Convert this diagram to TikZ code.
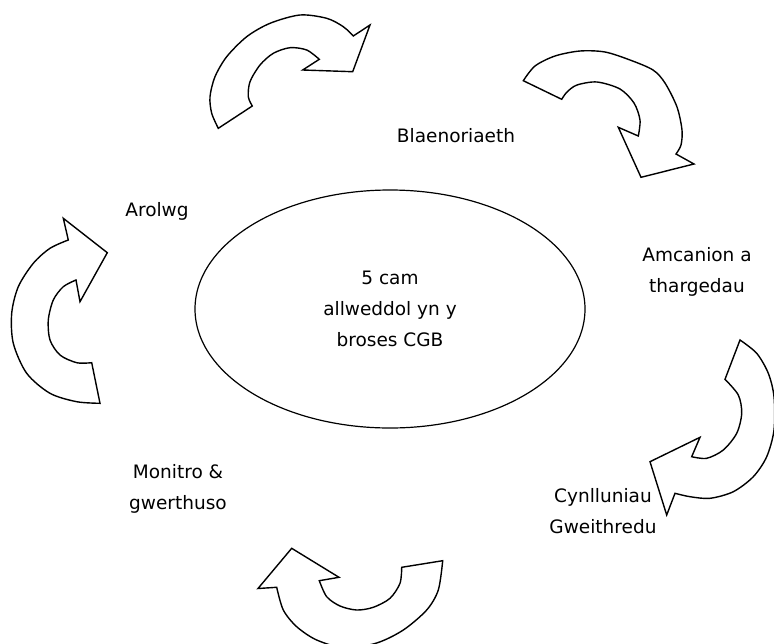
\documentclass[tikz,border=0pt]{standalone}
\usepackage{fontspec}
\setmainfont{DejaVu Sans}
\usetikzlibrary{shapes.geometric}
\tikzset{
  blockarrow/.style={draw=black, line width=1.4pt, fill=white, line join=miter},
  lbl/.style={align=center, inner sep=0pt, font=\fontsize{18.5}{31}\selectfont},
}
\begin{document}
\begin{tikzpicture}[x=1pt,y=-1pt]
\useasboundingbox (0,0) rectangle (774,643);
\fill[white] (0,0) rectangle (774,643);
\clip (0,0) rectangle (774,643);

% centre ellipse
\node[draw, line width=1.2pt, ellipse, minimum width=390pt, minimum height=238pt, lbl] (centre) at (390,309)
  {5 cam\\allweddol yn y\\broses CGB};

% labels
\node[lbl] (blaen) at (456,136) {Blaenoriaeth};
\node[lbl] (amcan) at (697,272) {Amcanion a\\thargedau};
\node[lbl] (cynll) at (603,511) {Cynlluniau\\Gweithredu};
\node[lbl] (monit) at (178,489) {Monitro \&\\gwerthuso};
\node[lbl] (arolw) at (157,211) {Arolwg};

% top arrow
\draw[blockarrow] plot[smooth] coordinates {(218.3,128.3) (211.7,113.3) (210,96.7) (215,76.7) (226.7,56.7) (246.7,36.7) (270,23.3) (300,15) (326.7,18.3) (343.3,26.7) (353.3,36)}
  -- (370,25) -- (352.7,71.7) -- (302.7,70) -- (319.3,59.3)
  -- plot[smooth] coordinates {(319.3,59.3) (306.7,50) (290,47.7) (273.3,53.3) (260,65) (250,81.7) (248.3,96.7) (252.3,106)}
  -- cycle;

% upper right arrow
\draw[blockarrow] plot[smooth] coordinates {(523.3,80.7) (535,66) (555,56) (580,51) (605,52) (630,60) (653,70) (665,83) (677,107) (682,130) (681,145) (676,154)}
  -- (694,164) -- (641,177.3) -- (618.3,127.3) -- (638.3,136)
  -- plot[smooth] coordinates {(638.3,136) (640,120) (634,103) (620,89) (597,82) (577,85) (567,92) (561.7,99.3)}
  -- cycle;

% right arrow
\draw[blockarrow] plot[smooth] coordinates {(740,340) (756.7,353.3) (768.3,373.3) (774,396.7) (774,430) (766.7,456.7) (753.3,476.7) (733.3,491.7) (710,498.3) (690,496.7) (675,493.3)}
  -- (666.7,515) -- (650,461.7) -- (700,437.3) -- (691.7,456.7)
  -- plot[smooth] coordinates {(691.7,456.7) (706.7,458.3) (723.3,450) (736.7,433.3) (741.7,413.3) (738.3,395) (725,379.3)}
  -- cycle;

% bottom arrow
\draw[blockarrow] plot[smooth] coordinates {(276.7,587.3) (283.3,610) (296.7,626.7) (316.7,640) (345,648) (376.7,643) (403.3,630) (426.7,610) (438.3,590) (442.7,560.7)}
  -- (401.7,567.3)
  -- plot[smooth] coordinates {(401.7,567.3) (400,583.3) (390,598.3) (373.3,607.3) (356.7,610) (340,606) (326.7,596.7) (319.3,580.7)}
  -- (339,577.3) -- (291.7,548.3) -- (258,588.5) -- cycle;

% left arrow
\draw[blockarrow] plot[smooth] coordinates {(100,403.3) (76.7,401.7) (50,393.3) (26.7,373.3) (13.3,343.3) (11.7,313.3) (18.3,286.7) (33.3,263.3) (50,248.3) (68.3,240)}
  -- (63.3,218.3) -- (107.3,252.7) -- (80,301.7) -- (76,280)
  -- plot[smooth] coordinates {(76,280) (63.3,286.7) (53.3,300) (48.3,320) (50,340) (60,355) (76.7,362.7) (91.7,362.7)}
  -- cycle;
\end{tikzpicture}
\end{document}
